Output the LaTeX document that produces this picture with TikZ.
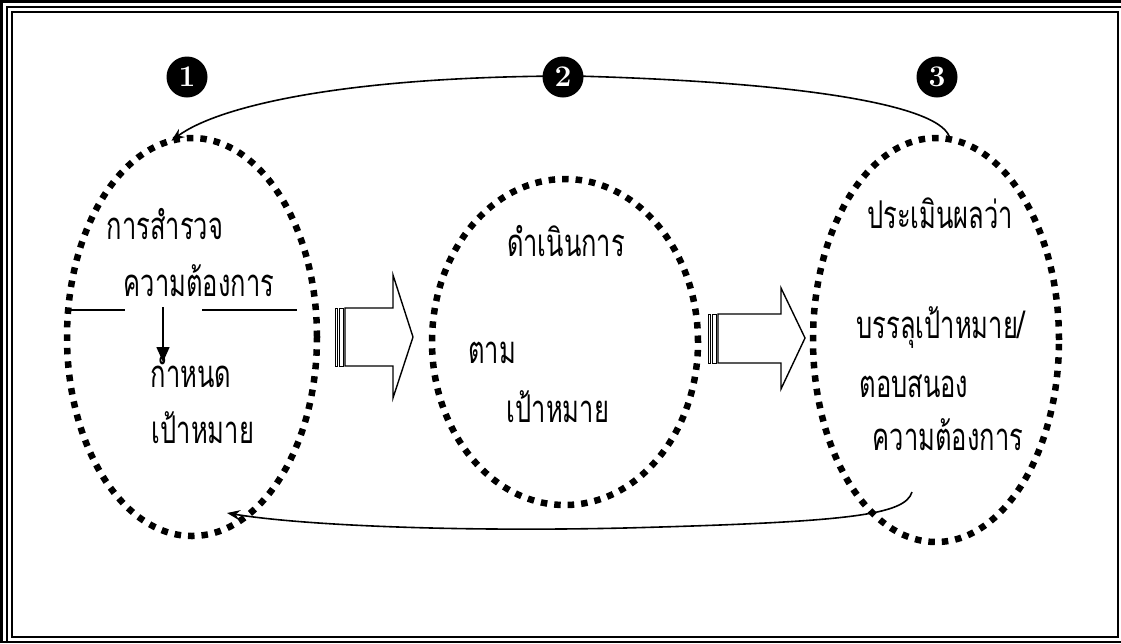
\documentclass[tikz,border=0pt]{standalone}
\usepackage{fontspec}
\newfontfamily\thaifont[Script=Thai]{Loma}
\usetikzlibrary{shapes.geometric,arrows.meta}
\newcommand\tallthai[1]{\scalebox{1}[1.5]{#1}}
\begin{document}
\begin{tikzpicture}[x=1pt,y=-1pt,
  dotell/.style={ellipse, draw, line width=6.5pt, dash pattern=on 6.5pt off 7pt, inner sep=0pt, outer sep=0pt},
  th/.style={font=\thaifont\fontsize{25.5}{30}\selectfont, inner sep=0pt, anchor=base},
  num/.style={circle, fill=black, text=white, minimum size=41pt, inner sep=0pt, font=\fontsize{30}{30}\selectfont\bfseries},
  conn/.style={line width=1.6pt},
  blk/.style={draw, line width=1.4pt, fill=white, line join=miter}]
% canvas and frame
\fill[white] (0,0) rectangle (1121,643);
\path[use as bounding box] (0,0) rectangle (1121,643);
\draw[line width=3pt] (1.5,643) -- (1.5,1.5) -- (1121,1.5);
\draw[line width=1.6pt] (7,643) -- (7,7) -- (1121,7);
\draw[line width=1.6pt] (12,12) rectangle (1118,637);
\draw[line width=2pt] (0,642) -- (1121,642);

% ellipses
\node[dotell, minimum width=250pt, minimum height=398pt] (E1) at (192,337) {};
\node[dotell, minimum width=266pt, minimum height=326pt] (E2) at (565,342) {};
\node[dotell, minimum width=246pt, minimum height=404pt] (E3) at (936,340) {};

% block arrows
\draw[blk] (345,308) -- (393,308) -- (393,275) -- (413,337) -- (393,398) -- (393,366) -- (345,366) -- cycle;
\draw[blk, line width=1pt] (335,308) rectangle (337.5,366);
\draw[blk, line width=1pt] (339.5,308) rectangle (343.5,366);
\draw[blk] (718,314) -- (781,314) -- (781,288) -- (805,338) -- (781,389) -- (781,363) -- (718,363) -- cycle;
\draw[blk, line width=1pt] (708,314) rectangle (710.5,363);
\draw[blk, line width=1pt] (712.5,314) rectangle (716.5,363);

% top feedback curve
\draw[conn, -{Stealth[length=13pt,width=10pt]}] (E3.86) .. controls (945,105) and (800,82) .. (575,76) .. controls (350,76) and (220,105) .. (E1.96);
% bottom feedback curve
\coordinate (b3) at (912,492);
\coordinate (b1) at (227,513);
\draw[conn, -{Stealth[length=13pt,width=10pt]}] (b3) .. controls (905,515) and (850,522) .. (625,528) .. controls (450,532) and (300,525) .. (b1);

% numbers
\node[num] (n1) at (187,77) {1};
\node[num] (n2) at (563,77) {2};
\node[num] (n3) at (937,77) {3};

% left ellipse texts
\node[th] (t11) at (165,239) {\tallthai{การสำรวจ}};
\node[th] (t12) at (199,296) {\tallthai{ความต้องการ}};
\node[th] (t13) at (191,387) {\tallthai{กำหนด}};
\node[th] (t14) at (203,443) {\tallthai{เป้าหมาย}};
\coordinate (h1) at (68,310);
\coordinate (h2) at (125,310);
\coordinate (h3) at (202,310);
\coordinate (h4) at (297,310);
\draw[conn] (h1) -- (h2);
\draw[conn] (h3) -- (h4);
\coordinate (v1) at (163,307);
\coordinate (v2) at (163,362);
\draw[conn, -{Triangle[length=15pt,width=13pt]}] (v1) -- (v2);

% middle texts
\node[th] (t21) at (566,256) {\tallthai{ดำเนินการ}};
\node[th] (t22) at (492,363) {\tallthai{ตาม}};
\node[th] (t23) at (558,422) {\tallthai{เป้าหมาย}};

% right texts
\node[th] (t31) at (940,228) {\tallthai{ประเมินผลว่า}};
\node[th] (t32) at (941,338) {\tallthai{บรรลุเป้าหมาย/}};
\node[th] (t33) at (914,397) {\tallthai{ตอบสนอง}};
\node[th] (t34) at (948,450) {\tallthai{ความต้องการ}};
\end{tikzpicture}
\end{document}
